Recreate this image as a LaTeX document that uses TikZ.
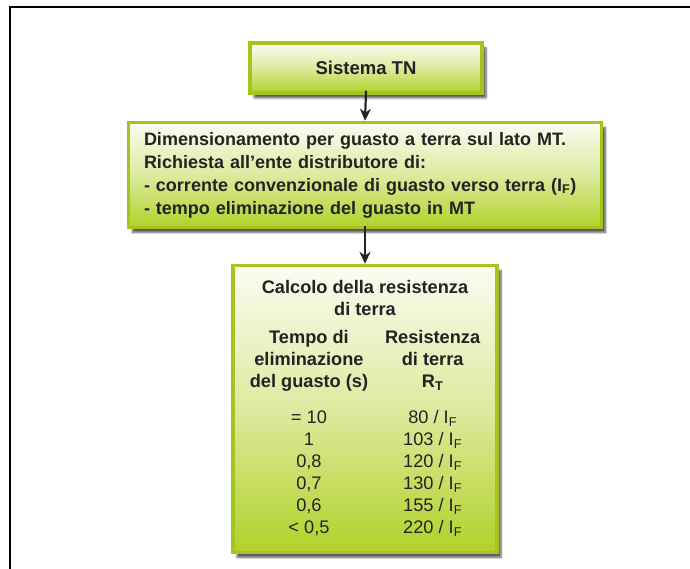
\documentclass[tikz,border=0pt]{standalone}
\usepackage{fontspec}
\setmainfont{Liberation Sans}
\usetikzlibrary{positioning}
\usetikzlibrary{arrows.meta}
\usetikzlibrary{shadows.blur}
\definecolor{limeline}{RGB}{162,198,30}
\definecolor{limefill}{RGB}{178,209,40}
\definecolor{inkgray}{RGB}{35,35,35}

\begin{document}
\begin{tikzpicture}[x=1pt, y=-1pt, >=Stealth,
    greenbox/.style={draw=limeline, line width=3.5pt, top color=limefill!6, bottom color=limefill,
        middle color=limefill!45,
        text=inkgray, font=\fontsize{18.5}{23}\selectfont\bfseries,
        blur shadow={shadow xshift=4pt, shadow yshift=-5pt, shadow blur steps=6, shadow opacity=65}},
    flow/.style={-{Stealth[length=12pt, width=11pt]}, line width=2.2pt, draw=inkgray}]
    \useasboundingbox (0,0) rectangle (690,569);
    % outer frame
    \draw[line width=1.6pt] (10,569) -- (10,7) -- (690,7);

    \node[greenbox, minimum width=232pt, minimum height=50pt] (sis) at (366,68) {Sistema TN};
    \node[greenbox, minimum width=473pt, minimum height=105pt, text width=442pt, inner xsep=15.5pt,
        align=left, font=\fontsize{18}{23}\selectfont\bfseries] (dim) at (365,175)
        {Dimensionamento per guasto a terra sul lato MT.\\
        Richiesta all'ente distributore di:\\
        - corrente convenzionale di guasto verso terra (I\textsubscript{F})\\
        - tempo eliminazione del guasto in MT};
    \node[greenbox, minimum width=264pt, minimum height=287pt] (calc) at (365,409) {%
        \fontsize{18.2}{22}\selectfont
        \begin{tabular}{@{}c@{\hspace{17pt}}c@{}}
        \multicolumn{2}{c}{Calcolo della resistenza}\\
        \multicolumn{2}{c}{di terra}\\[6pt]
        Tempo di & Resistenza\\
        eliminazione & di terra\\
        del guasto (s) & R\textsubscript{T}\\[14pt]
        \mdseries = 10 & \mdseries 80 / I\textsubscript{F}\\
        \mdseries 1 & \mdseries 103 / I\textsubscript{F}\\
        \mdseries 0,8 & \mdseries 120 / I\textsubscript{F}\\
        \mdseries 0,7 & \mdseries 130 / I\textsubscript{F}\\
        \mdseries 0,6 & \mdseries 155 / I\textsubscript{F}\\
        \mdseries < 0,5 & \mdseries 220 / I\textsubscript{F}\\
        \end{tabular}};

    \draw[flow] ([yshift=4pt]sis.south) -- (dim.north);
    \draw[flow] ([yshift=3pt]dim.south) -- (calc.north);
\end{tikzpicture}
\end{document}
